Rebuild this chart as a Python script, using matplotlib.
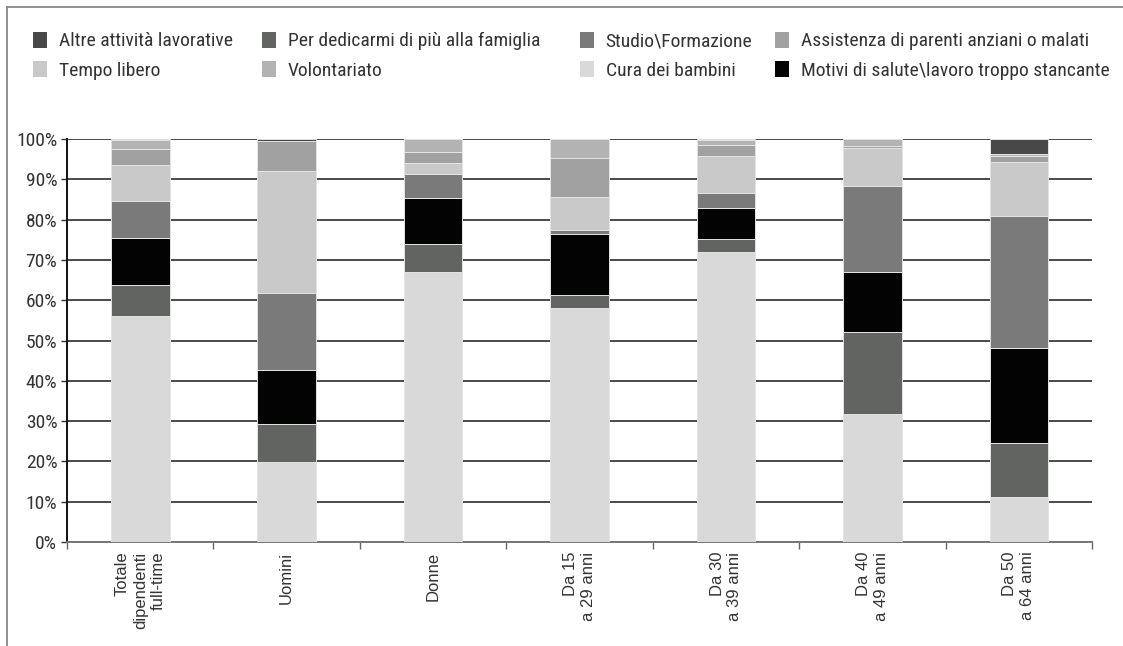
import numpy as np
import matplotlib
matplotlib.use("Agg")
import matplotlib.pyplot as plt
from matplotlib import font_manager
from matplotlib.lines import Line2D
from matplotlib.patches import Patch
from matplotlib.ticker import FixedLocator

# categories on the x axis
categories = ["Totale\ndipendenti\nfull-time", "Uomini", "Donne",
              "Da 15\na 29 anni", "Da 30\na 39 anni", "Da 40\na 49 anni",
              "Da 50\na 64 anni"]

# shares (%), stacked from the bottom up
cura_bambini = [56.0, 19.8, 66.9, 58.1, 72.0, 31.7, 11.1]
dedicarmi = [7.7, 9.4, 7.1, 3.3, 3.3, 20.3, 13.4]
motivi_salute = [11.7, 13.5, 11.4, 15.0, 7.5, 15.0, 23.6]
studio = [9.1, 19.2, 6.0, 1.0, 3.9, 21.3, 32.8]
tempo_libero = [9.1, 30.2, 2.6, 8.3, 9.2, 9.4, 13.4]
assistenza = [3.8, 7.4, 2.9, 9.7, 2.5, 0.6, 1.6]
volontariato = [2.3, 0.0, 3.1, 4.6, 1.3, 1.7, 0.3]
altre_attivita = [0.3, 0.5, 0.0, 0.0, 0.3, 0.0, 3.8]

series = [
    ("Cura dei bambini", cura_bambini, "#d9d9d9"),
    ("Per dedicarmi di più alla famiglia", dedicarmi, "#626462"),
    ("Motivi di salute\\lavoro troppo stancante", motivi_salute, "#030303"),
    ("Studio\\Formazione", studio, "#7a7a7a"),
    ("Tempo libero", tempo_libero, "#c8c9c8"),
    ("Assistenza di parenti anziani o malati", assistenza, "#a0a1a0"),
    ("Volontariato", volontariato, "#b2b3b2"),
    ("Altre attività lavorative", altre_attivita, "#474847"),
]

# legend columns, two entries each
legend_cols = [
    ["Altre attività lavorative", "Tempo libero"],
    ["Per dedicarmi di più alla famiglia", "Volontariato"],
    ["Studio\\Formazione", "Cura dei bambini"],
    ["Assistenza di parenti anziani o malati",
     "Motivi di salute\\lavoro troppo stancante"],
]
legend_x = [0.0294, 0.2333, 0.5165, 0.6901]

# a narrow face for legend and y labels if one is around, else plain sans
installed = {f.name for f in font_manager.fontManager.ttflist}
narrow_name = None
for cand in ["Liberation Sans Narrow", "DejaVu Sans Condensed",
             "Roboto Condensed", "Open Sans Condensed", "Noto Sans Condensed"]:
    if cand in installed:
        narrow_name = cand
        break
if narrow_name:
    leg_font = {"family": [narrow_name, "DejaVu Sans"], "size": 14}
    ytick_size = 14
else:
    leg_font = {"family": ["Liberation Sans", "DejaVu Sans"], "size": 11.5}
    ytick_size = 12
    narrow_name = "Liberation Sans"

txt = "#333333"

fig = plt.figure(figsize=(11.23, 6.46), dpi=100)
ax = fig.add_axes([0.0597, 0.161, 0.9127, 0.6238])

x = np.arange(len(categories))
bottom = np.zeros(len(categories))
colors = {}
for name, vals, col in series:
    vals = np.array(vals)
    ax.bar(x, vals, 0.4, bottom=bottom, color=col, edgecolor="#e4e4e4",
           linewidth=0.7, zorder=3)
    bottom += vals
    colors[name] = col

ax.set_xlim(-0.5, len(categories) - 0.5)
ax.set_ylim(0, 100)
ax.set_yticks(np.arange(0, 101, 10))
ax.set_yticklabels([f"{v}%" for v in range(0, 101, 10)], color=txt,
                   family=[narrow_name, "DejaVu Sans"], fontsize=ytick_size)
ax.yaxis.grid(True, color="#4a4a4a", linewidth=1.4, zorder=0)
ax.set_axisbelow(True)

ax.set_xticks(x)
ax.set_xticklabels(categories, rotation=90, ha="center", va="top",
                   multialignment="right", family=["Liberation Sans", "DejaVu Sans"],
                   fontsize=12, color=txt, linespacing=1.22)
ax.xaxis.set_minor_locator(FixedLocator(np.arange(-0.5, len(categories), 1.0)))
ax.tick_params(axis="x", which="major", length=0, pad=7)
ax.tick_params(axis="x", which="minor", length=5, width=1, color="#666666")
ax.tick_params(axis="y", length=4, width=1, color="#333333", pad=3)

for s in ("top", "right"):
    ax.spines[s].set_visible(False)
ax.spines["left"].set_color("#111111")
ax.spines["left"].set_linewidth(1.4)
ax.spines["bottom"].set_color("#777777")
ax.spines["bottom"].set_linewidth(1.4)

for names, lx in zip(legend_cols, legend_x):
    handles = [Patch(facecolor=colors[n], edgecolor="none") for n in names]
    fig.legend(handles, names, loc="upper left", bbox_to_anchor=(lx, 0.951),
               frameon=False, borderpad=0, borderaxespad=0, prop=leg_font,
               labelcolor=txt, handlelength=0.72, handleheight=0.9,
               handletextpad=0.6, labelspacing=0.55)

# thin frame round the figure
fig.add_artist(Line2D([0.0062, 1.0], [0.989, 0.989], color="#888888",
                      linewidth=1.3, transform=fig.transFigure))
fig.add_artist(Line2D([0.0062, 0.0062], [0.0, 0.989], color="#888888",
                      linewidth=1.3, transform=fig.transFigure))

fig.savefig("out.png", dpi=100)
